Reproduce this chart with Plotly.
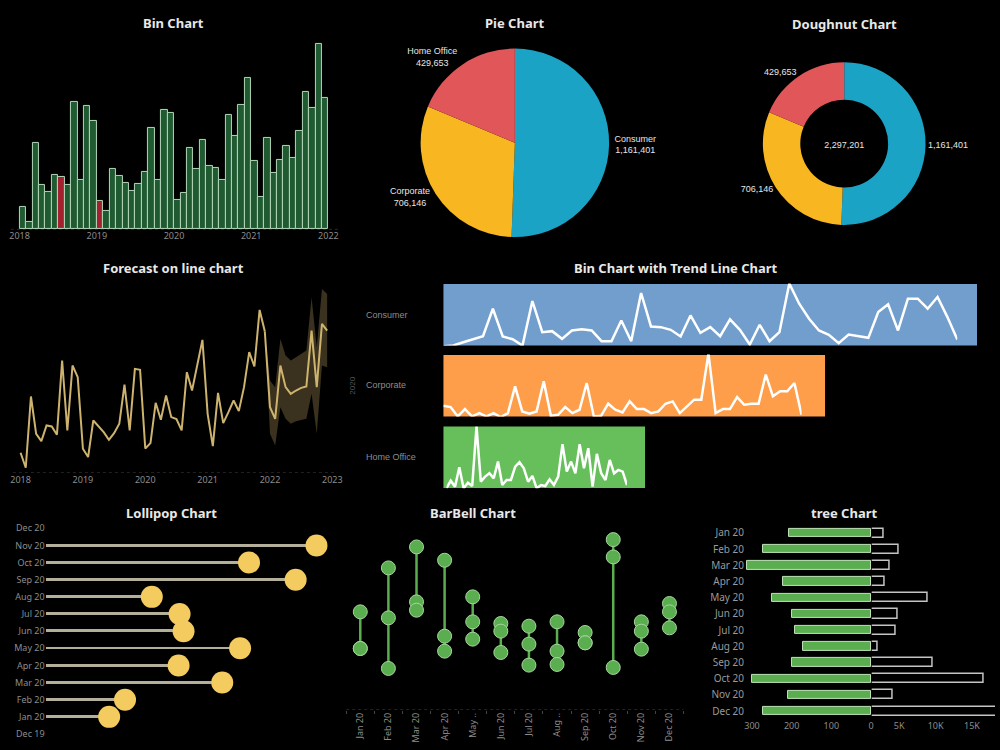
import plotly.graph_objects as go

W, H = 1000, 750
def fx(p): return p / W
def fy(p): return 1 - p / H

BG = "#000000"
TITLE_FONT = dict(family="Noto Sans", size=13, color="#e8e8e8")
TICK_FONT = dict(family="Noto Sans", size=9, color="#8c8c8c")
LABEL_FONT = dict(family="Liberation Sans", size=9, color="#e6e6e6")

# ---------------- data ----------------
# Bin chart: monthly values Jan 2018 .. Dec 2021
bin_start_year = 2018
bin_values = [66, 23, 261, 133, 111, 164, 159, 133, 384, 148, 370, 326,
              86, 54, 181, 161, 141, 116, 136, 173, 304, 148, 358, 350,
              88, 108, 244, 181, 268, 190, 184, 148, 345, 280, 374, 455,
              206, 96, 276, 171, 208, 250, 214, 296, 413, 366, 556, 394]
bin_red_months = [6, 12]
bin_year_ticks = [2018, 2019, 2020, 2021, 2022]

# Segments (pie / doughnut)
segments = ["Consumer", "Corporate", "Home Office"]
segment_sales = [1161401, 706146, 429653]
segment_total = 2297201
segment_colors = ["#1ba3c6", "#f8b620", "#e15759"]

# Forecast on line chart
fc_start_year = 2018
fc_actual = [73, 28, 242, 130, 108, 155, 152, 127, 350, 140, 335, 300,
             85, 60, 170, 153, 135, 112, 132, 160, 278, 140, 325, 322,
             86, 102, 223, 172, 245, 180, 174, 140, 315, 260, 340, 412,
             190, 93, 253, 162, 195, 230, 198, 270, 375, 332, 502, 438]
fc_forecast = [210, 175, 335, 270, 250, 260, 268, 272, 440, 270, 460, 440]
fc_upper = [438, 290, 270, 415, 365, 350, 360, 370, 380, 540, 390, 565, 550]
fc_lower = [438, 130, 95, 210, 175, 160, 168, 172, 175, 250, 130, 335, 330]
fc_year_ticks = [2018, 2019, 2020, 2021, 2022, 2023]

# Bin chart with trend line (2020)
trend_bar_values = [5380, 3850, 2040]
trend_colors = ["#729ece", "#ff9e4a", "#67bf5c"]
trend_consumer = [3, 5, 15, 25, 33, 115, 32, 24, 5, 138, 45, 48, 25, 50, 54, 50, 18, 18,
                  80, 18, 162, 62, 60, 52, 32, 95, 43, 60, 33, 83, 52, 8, 67, 18, 45, 190,
                  130, 85, 50, 37, 12, 38, 32, 28, 105, 128, 50, 145, 145, 115, 150, 90, 23]
trend_corporate = [37, 33, 5, 27, 5, 15, 5, 15, 3, 15, 95, 20, 13, 20, 110, 7, 10, 33, 15,
                   25, 105, 5, 7, 43, 25, 17, 50, 27, 27, 15, 20, 43, 50, 15, 35, 55, 55, 193,
                   15, 27, 27, 63, 40, 43, 43, 130, 65, 80, 80, 105, 10]
trend_home = [5, 28, 10, 68, 5, 22, 12, 190, 25, 40, 50, 35, 85, 15, 30, 30, 70, 83, 65, 25,
              42, 5, 15, 12, 32, 15, 40, 137, 55, 85, 50, 137, 65, 125, 10, 108, 50, 30, 90,
              50, 60, 55, 15]

# Lollipop chart
lolli_axis_labels = ["Dec 19", "Jan 20", "Feb 20", "Mar 20", "Apr 20", "May 20", "Jun 20",
                     "Jul 20", "Aug 20", "Sep 20", "Oct 20", "Nov 20", "Dec 20"]
lolli_months = ["Jan 20", "Feb 20", "Mar 20", "Apr 20", "May 20", "Jun 20",
                "Jul 20", "Aug 20", "Sep 20", "Oct 20", "Nov 20"]
lolli_values = [64, 80, 178, 134, 196, 139, 135, 107, 252, 205, 273]

# BarBell chart
bb_months = ["Jan 20", "Feb 20", "Mar 20", "Apr 20", "May ..", "Jun 20",
             "Jul 20", "Aug ..", "Sep 20", "Oct 20", "Nov 20", "Dec 20"]
bb_consumer = [210, 342, 405, 365, 255, 175, 167, 180, 148, 427, 180, 235]
bb_corporate = [100, 192, 240, 137, 180, 152, 113, 92, 117, 375, 152, 210]
bb_home = [100, 40, 215, 92, 128, 88, 50, 52, 117, 43, 98, 162]

# tree chart
tree_months = ["Jan 20", "Feb 20", "Mar 20", "Apr 20", "May 20", "Jun 20",
               "Jul 20", "Aug 20", "Sep 20", "Oct 20", "Nov 20", "Dec 20"]
tree_left = [206, 271, 312, 222, 249, 199, 192, 172, 199, 299, 209, 271]
tree_right = [2818, 5000, 3727, 3045, 8955, 4818, 4500, 2045, 9545, 16590, 4136, 20000]
tree_left_ticks = [300, 200, 100, 0]
tree_right_ticks = [5000, 10000, 15000]
tree_right_ticktext = ["5K", "10K", "15K"]

# ---------------- figure ----------------
fig = go.Figure()

# Bin chart
bin_x = [bin_start_year + (i + 0.5) / 12 for i in range(len(bin_values))]
bin_colors = ["#a3202f" if i in bin_red_months else "#1f5a31" for i in range(len(bin_values))]
fig.add_trace(go.Bar(x=bin_x, y=bin_values, width=1 / 12,
                     marker=dict(color=bin_colors, line=dict(color="#b4d6b9", width=1)),
                     xaxis="x", yaxis="y", hoverinfo="skip"))

# Pie
fig.add_trace(go.Pie(labels=segments, values=segment_sales, sort=False, direction="clockwise",
                     rotation=0, marker=dict(colors=segment_colors, line=dict(width=0)),
                     textposition="outside", texttemplate="%{label}<br>%{value:,}",
                     textfont=LABEL_FONT, domain=dict(x=[fx(421), fx(611)], y=[fy(237), fy(47)]),
                     hoverinfo="skip", showlegend=False))

# Doughnut
fig.add_trace(go.Pie(labels=segments, values=segment_sales, sort=False, direction="clockwise",
                     rotation=0, hole=0.54, marker=dict(colors=segment_colors, line=dict(width=0)),
                     textposition="outside", texttemplate="%{value:,}", textfont=LABEL_FONT,
                     title=dict(text=f"{segment_total:,}", position="middle center", font=LABEL_FONT),
                     domain=dict(x=[fx(766), fx(930)], y=[fy(224.8), fy(60.8)]),
                     hoverinfo="skip", showlegend=False))

# Forecast
fc_x = [fc_start_year + i / 12 for i in range(len(fc_actual) + len(fc_forecast))]
n_act = len(fc_actual)
band_x = fc_x[n_act - 1:]
fig.add_trace(go.Scatter(x=band_x, y=fc_lower, mode="lines", line=dict(width=0, color="#3a321e"),
                         xaxis="x2", yaxis="y2", hoverinfo="skip", showlegend=False))
fig.add_trace(go.Scatter(x=band_x, y=fc_upper, mode="lines", line=dict(width=0, color="#3a321e"),
                         fill="tonexty", fillcolor="#3a321e",
                         xaxis="x2", yaxis="y2", hoverinfo="skip", showlegend=False))
fig.add_trace(go.Scatter(x=fc_x[:n_act], y=fc_actual, mode="lines", line=dict(color="#cdb36e", width=2),
                         xaxis="x2", yaxis="y2", hoverinfo="skip", showlegend=False))
fig.add_trace(go.Scatter(x=band_x, y=[fc_actual[-1]] + fc_forecast, mode="lines",
                         line=dict(color="#cdb36e", width=2),
                         xaxis="x2", yaxis="y2", hoverinfo="skip", showlegend=False))

# Bin chart with trend line
trend_lines = [trend_consumer, trend_corporate, trend_home]
for k, seg in enumerate(segments):
    bx, lx = 3 + 2 * k, 4 + 2 * k
    fig.add_trace(go.Bar(y=[seg], x=[trend_bar_values[k]], orientation="h", width=1,
                         marker=dict(color=trend_colors[k], line=dict(width=0)),
                         xaxis=f"x{bx}", yaxis=f"y{bx}", hoverinfo="skip", showlegend=False))
    fig.add_trace(go.Scatter(x=list(range(len(trend_lines[k]))), y=trend_lines[k], mode="lines",
                             line=dict(color="#ffffff", width=2.5),
                             xaxis=f"x{lx}", yaxis=f"y{lx}", hoverinfo="skip", showlegend=False))

# Lollipop
lolli_y = [lolli_axis_labels.index(m) for m in lolli_months]
fig.add_trace(go.Bar(x=lolli_values, y=lolli_y, orientation="h", width=0.17,
                     marker=dict(color="#b3af9a", line=dict(width=0)),
                     xaxis="x9", yaxis="y9", hoverinfo="skip", showlegend=False))
fig.add_trace(go.Scatter(x=lolli_values, y=lolli_y, mode="markers",
                         marker=dict(size=22, color="#f4cb5f", line=dict(width=0)),
                         cliponaxis=False, xaxis="x9", yaxis="y9", hoverinfo="skip", showlegend=False))

# BarBell
bb_line_x, bb_line_y = [], []
for m, vals in zip(bb_months, zip(bb_consumer, bb_corporate, bb_home)):
    bb_line_x += [m, m, None]
    bb_line_y += [min(vals), max(vals), None]
fig.add_trace(go.Scatter(x=bb_line_x, y=bb_line_y, mode="lines", line=dict(color="#5aae4f", width=2.5),
                         connectgaps=False, xaxis="x10", yaxis="y10", hoverinfo="skip", showlegend=False))
for series in (bb_consumer, bb_corporate, bb_home):
    fig.add_trace(go.Scatter(x=bb_months, y=series, mode="markers",
                             marker=dict(size=14, color="#5aae4f", line=dict(color="#a6d69d", width=1)),
                             cliponaxis=False, xaxis="x10", yaxis="y10", hoverinfo="skip", showlegend=False))

# tree chart
fig.add_trace(go.Bar(x=tree_right, y=tree_months, orientation="h", width=0.56,
                     marker=dict(color="#000000", line=dict(color="#c4c4c4", width=1.5)),
                     xaxis="x12", yaxis="y12", hoverinfo="skip", showlegend=False))
fig.add_trace(go.Bar(x=tree_left, y=tree_months, orientation="h", width=0.52,
                     marker=dict(color="#5aae4f", line=dict(color="#bfe3b8", width=1)),
                     xaxis="x11", yaxis="y11", hoverinfo="skip", showlegend=False))


def ax(**kw):
    d = dict(showgrid=False, zeroline=False, showline=False, ticks="", tickfont=TICK_FONT,
             fixedrange=True)
    d.update(kw)
    return d


layout_axes = dict(
    xaxis=ax(domain=[fx(8), fx(338)], range=[2017.888, 2022.128], tickvals=bin_year_ticks,
             ticktext=[str(t) for t in bin_year_ticks], anchor="y"),
    yaxis=ax(domain=[fy(228.7), fy(40)], range=[0, 566], visible=False, anchor="x"),
    xaxis2=ax(domain=[fx(10), fx(337)], range=[2017.8775, 2023.0795], tickvals=fc_year_ticks,
              ticktext=[str(t) for t in fc_year_ticks], anchor="y2"),
    yaxis2=ax(domain=[fy(472.7), fy(285)], range=[12, 575], visible=False, anchor="x2"),
    xaxis9=ax(domain=[fx(43), fx(335)], range=[0, 292], visible=False, anchor="y9"),
    yaxis9=ax(domain=[fy(740), fy(522)], range=[-0.35, 12.35], tickvals=list(range(len(lolli_axis_labels))),
              ticktext=lolli_axis_labels, anchor="x9"),
    xaxis10=ax(domain=[fx(346), fx(686)], range=[-0.5, 11.5], type="category", categoryorder="array",
               categoryarray=bb_months, tickangle=-90, ticks="outside", tickson="boundaries",
               ticklen=3, tickcolor="#444444", anchor="y10"),
    yaxis10=ax(domain=[fy(710), fy(520)], range=[-85, 485], visible=False, anchor="x10"),
    xaxis11=ax(domain=[fx(748), fx(875)], range=[317.5, 0], tickvals=tree_left_ticks,
               ticktext=[str(t) for t in tree_left_ticks], anchor="y11"),
    yaxis11=ax(domain=[fy(719.1), fy(524.6)], type="category", categoryorder="array",
               categoryarray=tree_months, range=[11.5, -0.5], anchor="x11",
               tickfont=dict(family="Noto Sans", size=10, color="#9a9a9a")),
    xaxis12=ax(domain=[fx(875.7), 1.0], range=[1226, 18160], tickvals=tree_right_ticks,
               ticktext=tree_right_ticktext, anchor="y12"),
    yaxis12=ax(domain=[fy(719.1), fy(524.6)], type="category", categoryorder="array",
               categoryarray=tree_months, range=[11.5, -0.5], showticklabels=False, anchor="x12"),
)

# trend chart axes
trend_rows = [(283, 345), (354, 416), (426, 488)]
trend_line_ext = [(444, 962), (444, 805), (447, 629)]
for k in range(3):
    bx, lx = 3 + 2 * k, 4 + 2 * k
    top, bot = trend_rows[k]
    layout_axes[f"xaxis{bx}"] = ax(domain=[fx(444), fx(982)], range=[0, max(trend_bar_values)],
                                   visible=False, anchor=f"y{bx}")
    layout_axes[f"yaxis{bx}"] = ax(domain=[fy(bot), fy(top)], range=[-0.5, 0.5], type="category",
                                   visible=False, anchor=f"x{bx}")
    layout_axes[f"xaxis{lx}"] = ax(domain=[fx(trend_line_ext[k][0]), fx(trend_line_ext[k][1])],
                                   range=[0, len(trend_lines[k]) - 1], visible=False, anchor=f"y{lx}")
    layout_axes[f"yaxis{lx}"] = ax(domain=[fy(bot), fy(top)], range=[5, 190], visible=False,
                                   anchor=f"x{lx}")

annotations = []
titles = [("Bin Chart", 172, 22), ("Pie Chart", 516, 22), ("Doughnut Chart", 848, 23),
          ("Forecast on line chart", 172, 267), ("Bin Chart with Trend Line Chart", 678, 267),
          ("Lollipop Chart", 170, 513), ("BarBell Chart", 474, 513), ("tree Chart", 848, 513)]
for t, x, y in titles:
    annotations.append(dict(text=f"<b>{t}</b>", x=fx(x), y=fy(y), xref="paper", yref="paper",
                            xanchor="center", yanchor="middle", showarrow=False, font=TITLE_FONT))
for k, seg in enumerate(segments):
    top, bot = trend_rows[k]
    annotations.append(dict(text=seg, x=fx(364), y=fy((top + bot) / 2), xref="paper", yref="paper",
                            xanchor="left", yanchor="middle", showarrow=False,
                            font=dict(family="Liberation Sans", size=9, color="#8c8c8c")))
annotations.append(dict(text="2020", x=fx(352), y=fy(385), xref="paper", yref="paper", textangle=-90,
                        xanchor="center", yanchor="middle", showarrow=False,
                        font=dict(family="Liberation Sans", size=8, color="#5a5a5a")))

shapes = []
for xr, yr, yv in (("x", "y", 0), ("x2", "y2", 12), ("x10", "y10", -85)):
    shapes.append(dict(type="line", xref=f"{xr} domain", yref=yr, x0=0, x1=1, y0=yv, y1=yv,
                       line=dict(color="#4a4a4a", width=1, dash="dot"), layer="below"))

fig.update_layout(width=W, height=H, margin=dict(l=0, r=0, t=0, b=0),
                  paper_bgcolor=BG, plot_bgcolor="rgba(0,0,0,0)", showlegend=False,
                  bargap=0, barmode="overlay", annotations=annotations, shapes=shapes,
                  font=dict(family="Noto Sans", color="#cccccc"), **layout_axes)

fig.write_html("out.html")
